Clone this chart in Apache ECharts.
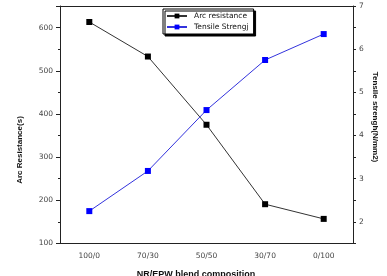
<!DOCTYPE html>
<html>
<head>
<meta charset="utf-8">
<script src="https://cdn.jsdelivr.net/npm/echarts@6/dist/echarts.min.js"></script>
<style>
  html, body { margin: 0; padding: 0; background: #fff; }
  #main { width: 387px; height: 276px; }
</style>
</head>
<body>
<div id="main"></div>
<script>
// blend compositions (NR/EPW)
const categories = ['100/0', '70/30', '50/50', '30/70', '0/100'];
// arc resistance in seconds, left axis
const arcResistance = [613, 533, 375, 191, 157];
// tensile strength in N/mm2, right axis
const tensileStrength = [2.25, 3.18, 4.59, 5.75, 6.35];

const labelFont = 'DejaVu Sans';

let myChart = echarts.init(document.getElementById('main'));
myChart.setOption({
  animation: false,
  backgroundColor: '#fff',
  grid: { left: 60, right: 34, top: 6, bottom: 32.5 },
  legend: {
    orient: 'vertical',
    left: 163,
    top: 9,
    padding: [3, 5, 3, 3],
    itemGap: 3,
    itemWidth: 20,
    itemHeight: 6,
    backgroundColor: '#fff',
    borderColor: '#000',
    borderWidth: 1,
    borderRadius: 0,
    shadowColor: '#000',
    shadowBlur: 0,
    shadowOffsetX: 2,
    shadowOffsetY: 2,
    textStyle: { fontFamily: labelFont, fontSize: 7.5, color: '#111', padding: [0, 0, 0, 2] },
    data: ['Arc resistance', 'Tensile Strengj']
  },
  xAxis: [
    {
      type: 'category',
      data: categories,
      boundaryGap: true,
      position: 'bottom',
      axisLine: { lineStyle: { color: '#222', width: 1 } },
      axisTick: { alignWithLabel: true, length: 4, lineStyle: { color: '#222' } },
      axisLabel: { fontFamily: labelFont, fontSize: 7.5, color: '#444', margin: 9 },
      splitLine: { show: false }
    },
    {
      // short ticks between the categories
      type: 'category',
      data: categories,
      boundaryGap: true,
      position: 'bottom',
      axisLine: { show: false },
      axisTick: { length: 2, lineStyle: { color: '#222' } },
      axisLabel: { show: false },
      splitLine: { show: false }
    },
    {
      // frame on top
      type: 'category',
      data: ['', '', '', '', '', '', '', '', '', ''],
      boundaryGap: true,
      position: 'top',
      axisLine: { lineStyle: { color: '#222', width: 1 } },
      axisTick: { inside: true, length: 3, lineStyle: { color: '#222' } },
      axisLabel: { show: false },
      splitLine: { show: false }
    }
  ],
  yAxis: [
    {
      type: 'value',
      min: 100,
      max: 650,
      interval: 100,
      position: 'left',
      axisLine: { show: true, lineStyle: { color: '#222', width: 1 } },
      axisTick: { show: true, length: 4, lineStyle: { color: '#222' } },
      minorTick: { show: true, splitNumber: 2, length: 2, lineStyle: { color: '#222' } },
      axisLabel: { fontFamily: labelFont, fontSize: 7.5, color: '#444', margin: 7, showMaxLabel: false },
      splitLine: { show: false }
    },
    {
      type: 'value',
      min: 1.5,
      max: 7,
      interval: 0.5,
      position: 'right',
      axisLine: { show: true, lineStyle: { color: '#222', width: 1 } },
      axisTick: { show: true, length: 3, lineStyle: { color: '#222' } },
      axisLabel: {
        fontFamily: labelFont, fontSize: 7.5, color: '#444', margin: 6,
        formatter: function (v) { return Number.isInteger(v) ? String(v) : ''; }
      },
      splitLine: { show: false }
    }
  ],
  graphic: [
    {
      type: 'text', x: 20, y: 150, rotation: Math.PI / 2,
      style: { text: 'Arc Resistance(s)', font: 'bold 8px "Liberation Sans"', fill: '#111', align: 'center', verticalAlign: 'middle' }
    },
    {
      type: 'text', x: 375, y: 117, rotation: -Math.PI / 2,
      style: { text: 'Tensile strengh(N/mm2)', font: 'bold 8px "Liberation Sans"', fill: '#111', align: 'center', verticalAlign: 'middle' }
    },
    {
      type: 'text', x: 196, y: 275,
      style: { text: 'NR/EPW blend composition', font: 'bold 9px "Liberation Sans"', fill: '#111', align: 'center', verticalAlign: 'middle' }
    }
  ],
  series: [
    {
      name: 'Arc resistance',
      type: 'line',
      xAxisIndex: 0,
      yAxisIndex: 0,
      data: arcResistance,
      symbol: 'rect',
      symbolSize: 6,
      itemStyle: { color: '#000' },
      lineStyle: { color: '#333', width: 1 }
    },
    {
      name: 'Tensile Strengj',
      type: 'line',
      xAxisIndex: 0,
      yAxisIndex: 1,
      data: tensileStrength,
      symbol: 'rect',
      symbolSize: 6,
      itemStyle: { color: '#0000ff' },
      lineStyle: { color: '#3333dd', width: 1 }
    }
  ]
});
</script>
</body>
</html>
